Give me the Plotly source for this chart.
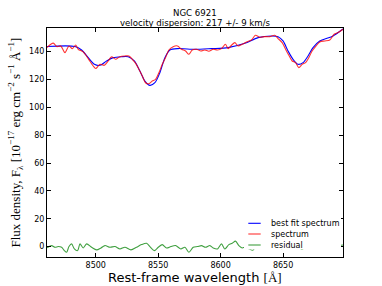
import plotly.graph_objects as go

# ---------------- data ----------------
bestfit_wl = [8461, 8483.4, 8488.7, 8494, 8498.9, 8503.4, 8508.7, 8514, 8520.7, 8526,
              8530.9, 8535.4, 8539.4, 8543.4, 8547.4, 8551.4, 8555.4, 8559.4, 8566,
              8579.4, 8592.7, 8606, 8619.4, 8630, 8640.7, 8646, 8650, 8654, 8658,
              8662, 8666, 8670, 8674, 8679.4, 8684.7, 8690, 8698]
bestfit_flux = [143.7, 143.7, 141.2, 135.7, 130.9, 130.2, 133.3, 135.7, 136.4, 136.4,
                133.3, 126.1, 118.9, 115.8, 117.7, 124.9, 135.7, 141.2, 142.2,
                141.7, 142.2, 142.9, 146.0, 150.1, 151.3, 150.8, 147.7, 140.5, 134.5,
                130.9, 132.1, 136.9, 142.9, 147.7, 149.4, 151.3, 156.3]

spec_wl = [8461, 8466, 8469, 8472, 8475.4, 8478.6, 8481.3, 8484, 8486, 8490, 8494, 8498,
           8500, 8503.4, 8506.9, 8510, 8512.7, 8515.9, 8519.4, 8523.4, 8526.6, 8529.3,
           8532, 8534.6, 8537.3, 8539.9, 8542.6, 8545.3, 8547.9, 8550.6, 8553.3, 8555.9,
           8558.6, 8562, 8565.5, 8568.7, 8571.9, 8574.6, 8577.3, 8580.7, 8584.2, 8587.4,
           8590.6, 8594.1, 8597.5, 8600.7, 8603.9, 8606, 8608.7, 8611.4, 8614, 8617.3,
           8620.7, 8624.7, 8627.9, 8631.4, 8635.4, 8639.4, 8643.4, 8646, 8649.3, 8652,
           8654.6, 8657.3, 8660, 8662.6, 8665.3, 8668, 8670.6, 8673.3, 8676, 8679.4,
           8683.4, 8687.4, 8690.9, 8694.1, 8698]
spec_flux = [143.0, 146.1, 143.6, 144.1, 139.3, 144.1, 142.2, 144.8, 141.7, 139.8, 135.0, 129.7,
             127.9, 130.9, 130.2, 133.3, 136.4, 134.5, 136.4, 136.9, 136.9, 134.5,
             131.6, 127.3, 122.5, 117.7, 117.0, 118.9, 120.1, 124.9, 130.9, 135.7,
             141.2, 143.6, 144.1, 141.7, 140.5, 138.1, 141.2, 141.7, 140.5, 141.2,
             140.3, 141.7, 141.2, 142.2, 145.3, 142.2, 144.6, 146.5, 144.1, 145.3,
             147.0, 148.4, 151.8, 150.4, 150.8, 150.8, 151.8, 149.4, 146.5, 141.7,
             137.4, 133.3, 132.1, 128.5, 130.9, 132.1, 135.7, 140.5, 143.6, 147.0,
             147.7, 148.4, 152.5, 153.7, 156.1]

resid_wl = [8461, 8464.7, 8467.4, 8470, 8472.7, 8474.9, 8476.7, 8478.6, 8480.7, 8482.9, 8485.5,
            8487.4, 8490, 8492.7, 8496.7, 8500.7, 8504.2, 8507.4, 8511.4, 8515.4, 8519.4,
            8523.4, 8528.2, 8532.7, 8536.7, 8540.7, 8543.4, 8546.9, 8550.1, 8553.3, 8556.7,
            8560.2, 8563.9, 8568.2, 8571.4, 8574.6, 8578.1, 8581.5, 8584.7, 8587.9, 8591.4,
            8594.1, 8597.5, 8600.7, 8603.4, 8606.6, 8609.3, 8611.9, 8614.6, 8617.3, 8619.4,
            8622.5, 8625.8, 8629, 8633, 8637, 8641, 8645, 8649, 8653, 8657, 8661, 8665,
            8669, 8673, 8677, 8681, 8685, 8689, 8693, 8698]
resid_flux = [-0.9, 0.7, -0.5, 0.0, -0.5, -2.9, -4.1, 0.0, 1.9, -1.7, -2.9,
              1.9, -1.0, 1.9, -0.5, -2.4, -1.0, 0.7, -0.5, 0.0, -1.7,
              -0.5, -2.4, -0.5, 1.4, 2.4, 0.0, -2.9, -0.5, 1.4, -1.0,
              0.0, 0.7, -1.7, -0.5, -4.1, -0.5, 0.0, 0.7, -0.5, 0.7,
              -1.0, -1.7, 1.9, -1.7, 1.4, 2.4, 3.9, 0.7, -1.0, -0.5,
              -1.5, -2.6, 0.8, -1.2, 1.5, -0.8, 1.0, -1.6, 2.0, -0.9, 1.2, -2.0,
              0.5, -1.0, 1.3, -0.6, 0.9, -1.4, 0.4, 1.1]

title_main = "NGC 6921"
title_sub = "velocity dispersion: 217 +/- 9 km/s"
x_ticks = [8500, 8550, 8600, 8650]
y_ticks = [0, 20, 40, 60, 80, 100, 120, 140]
legend_labels = ["best fit spectrum", "spectrum", "residual"]
series_colors = ["rgb(0,0,255)", "rgba(255,0,0,0.8)", "rgba(0,128,0,0.75)"]

# ---------------- figure ----------------
fig = go.Figure()
fig.add_trace(go.Scatter(x=bestfit_wl, y=bestfit_flux, mode="lines", name=legend_labels[0],
                         line=dict(color=series_colors[0], width=1.1, shape="spline", smoothing=0.8)))
fig.add_trace(go.Scatter(x=spec_wl, y=spec_flux, mode="lines", name=legend_labels[1],
                         line=dict(color=series_colors[1], width=1.1, shape="spline", smoothing=0.8)))
fig.add_trace(go.Scatter(x=resid_wl, y=resid_flux, mode="lines", name=legend_labels[2],
                         line=dict(color=series_colors[2], width=1.1, shape="spline", smoothing=0.8)))

L, R, T, B = 47, 39, 28, 29
W, H = 382, 286
pw, ph = W - L - R, H - T - B

def px(xp):
    return (xp - L) / pw

def py(yp):
    return (H - B - yp) / ph

axis_common = dict(showgrid=False, zeroline=False, showline=True, linecolor="black", linewidth=1,
                   mirror="ticks", ticks="inside", ticklen=4, tickcolor="black", tickwidth=1,
                   tickfont=dict(family="DejaVu Sans", size=8, color="black"))

fig.update_layout(
    width=W, height=H,
    margin=dict(l=L, r=R, t=T, b=B),
    paper_bgcolor="white", plot_bgcolor="white",
    showlegend=False,
    xaxis=dict(range=[8461, 8698], tickvals=x_ticks, ticktext=[str(v) for v in x_ticks], **axis_common),
    yaxis=dict(range=[-7.5, 157], tickvals=y_ticks, ticktext=[str(v) for v in y_ticks], **axis_common),
)

ann = []
ann.append(dict(text=title_main, x=0.5, y=py(12.5), xref="paper", yref="paper", showarrow=False,
                xanchor="center", yanchor="middle", font=dict(family="DejaVu Sans", size=8.6, color="black")))
ann.append(dict(text=title_sub, x=0.5, y=py(23.3), xref="paper", yref="paper", showarrow=False,
                xanchor="center", yanchor="middle", font=dict(family="DejaVu Sans", size=8.6, color="black")))
ann.append(dict(text="Rest-frame wavelength <span style='font-family:Liberation Serif'>[Å]</span>",
                x=0.5, y=py(277), xref="paper", yref="paper", showarrow=False,
                xanchor="center", yanchor="middle", font=dict(family="DejaVu Sans", size=13, color="black")))
ann.append(dict(text="Flux density, F<sub>λ</sub> [10<sup>−17</sup> erg cm<sup>−2</sup> s<sup>−1</sup> Å<sup>−1</sup>]",
                x=px(15), y=0.5, xref="paper", yref="paper", showarrow=False, textangle=-90,
                xanchor="center", yanchor="middle", font=dict(family="Liberation Serif", size=13, color="black")))

# legend (white box over the residual, short line samples)
shapes = [dict(type="rect", xref="paper", yref="paper", x0=px(244), x1=px(341), y0=py(249.5), y1=py(213),
               fillcolor="white", line=dict(width=0), layer="above")]
rows = [223.3, 234, 245]
for lbl, col, yy in zip(legend_labels, series_colors, rows):
    shapes.append(dict(type="line", xref="paper", yref="paper", x0=px(248.3), x1=px(260.7), y0=py(yy), y1=py(yy),
                       line=dict(color=col, width=1.1), layer="above"))
    ann.append(dict(text=lbl, x=px(269), y=py(yy), xref="paper", yref="paper", showarrow=False,
                    xanchor="left", yanchor="middle", font=dict(family="DejaVu Sans", size=8, color="black")))

fig.update_layout(annotations=ann, shapes=shapes)
fig.write_html("out.html", config={"displayModeBar": False},
               post_script="document.body.style.margin='0';document.body.style.overflow='hidden';")
